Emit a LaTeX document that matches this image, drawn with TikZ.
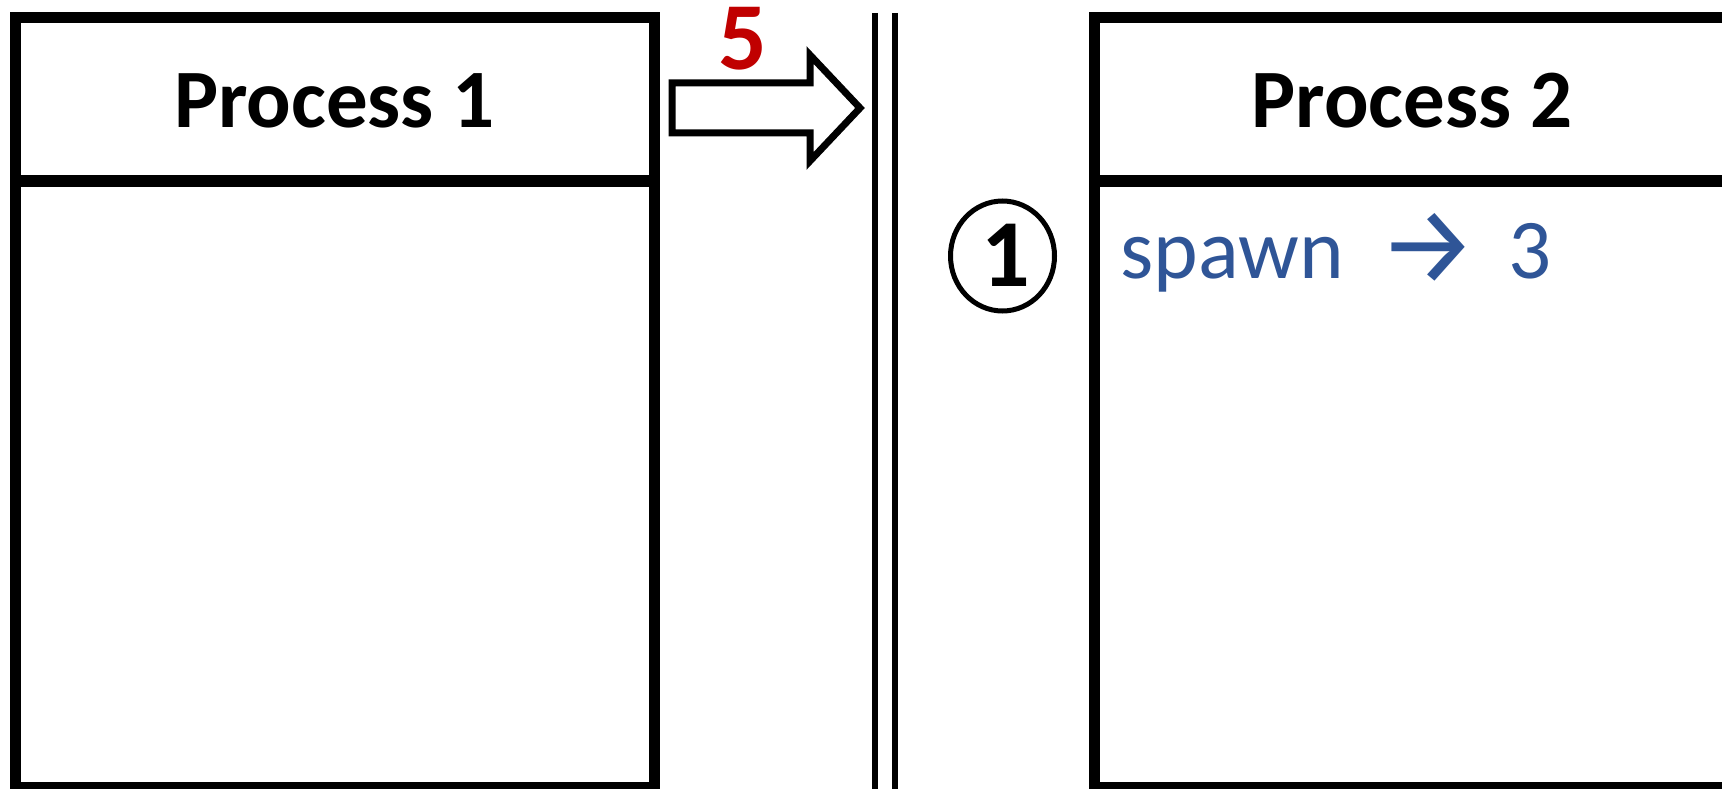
\documentclass[tikz,border=0pt]{standalone}
\usepackage{fontspec}
\setmainfont{Carlito}
\newfontfamily\arrowfont{Fira Sans}
\usetikzlibrary{shapes.geometric}
\definecolor{spawnblue}{HTML}{2F5597}
\definecolor{numred}{HTML}{C00000}
\begin{document}
\begin{tikzpicture}[x=1pt,y=-1pt,
  frame/.style={line width=11pt, line join=miter},
  rail/.style={line width=6pt},
  title/.style={font=\fontsize{83}{99}\selectfont\bfseries, anchor=base, inner sep=0pt},
  bignum/.style={font=\fontsize{96}{115}\selectfont\bfseries, anchor=base, inner sep=0pt},
  note/.style={font=\fontsize{85}{100}\selectfont, text=spawnblue, anchor=base west, inner sep=0pt}]
\useasboundingbox (0,0) rectangle (1722,789);
\clip (0,0) rectangle (1722,789);

% process 1 frame with header
\draw[frame] (15,18) rectangle (654,787);
\draw[frame] (15,181) -- (654,181);
\node[title] (p1) at (334.5,128) {Process 1};

% process 2 frame with header (runs past the right edge)
\draw[frame] (1094,18) rectangle (1733,787);
\draw[frame] (1094,181) -- (1733,181);
\node[title] (p2) at (1412,128) {Process 2};

% message arrow and its count
\draw[line width=7pt, line join=miter]
  (672,83) -- (810,83) -- (810,55) -- (860,108) -- (810,161) -- (810,133) -- (672,133) -- cycle;
\node[bignum, text=numred] (n5) at (743,70) {5};

% double boundary
\coordinate (ra) at (875,13);
\coordinate (rb) at (875,789);
\coordinate (sa) at (895,13);
\coordinate (sb) at (895,789);
\draw[rail] (ra) -- (rb);
\draw[rail] (sa) -- (sb);

% step marker
\node[ellipse, draw, line width=5pt, minimum width=104pt, minimum height=110pt] (step1) at (1002.5,256) {};
\node[bignum] (one) at (1006,286) {1};

% spawn note
\node[note] (spawn) at (1120,278)
  {spawn\hspace{35pt}\raisebox{-5pt}{\arrowfont\fontsize{110}{120}\selectfont →}\hspace{31pt}3};
\end{tikzpicture}
\end{document}
